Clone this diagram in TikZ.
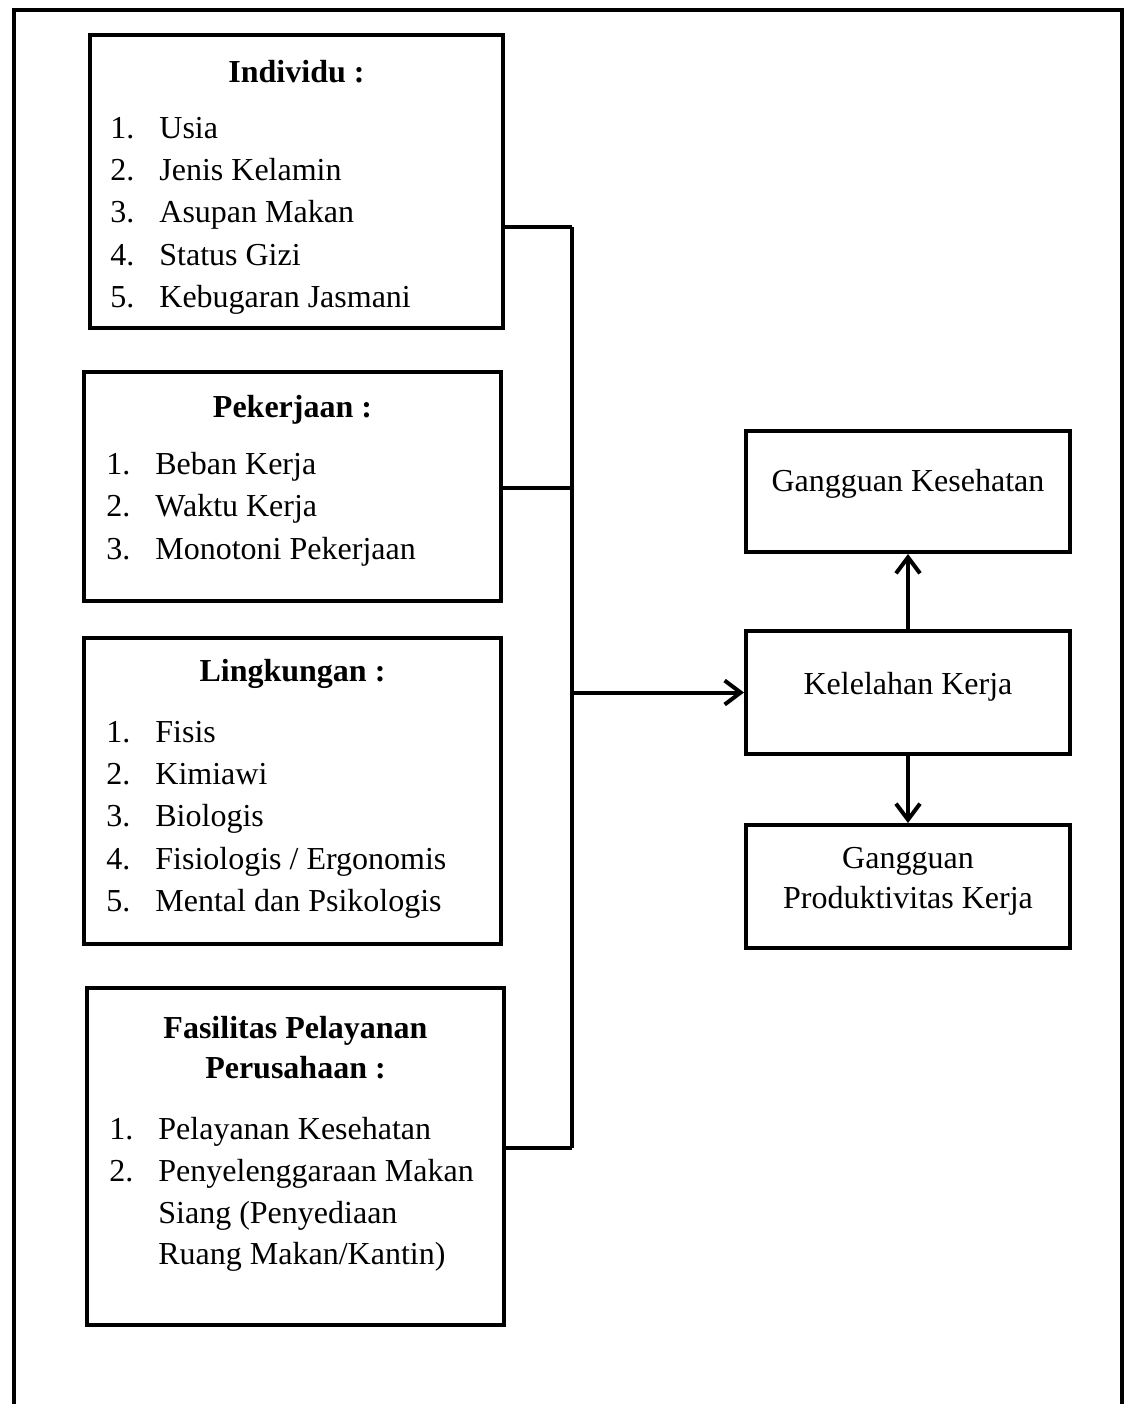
\documentclass[tikz,border=0pt]{standalone}
\usepackage{fontspec}
\setmainfont{Liberation Serif}
\usetikzlibrary{arrows.meta}
\newcommand{\pbox}[5]{%
  \node[boxstyle, minimum width={(#4-#2)*0.5pt}, minimum height={(#5-#3)*0.5pt}] (#1) at ({(#2+#4)/2},{(#3+#5)/2}) {};}
\begin{document}
\begin{tikzpicture}[x=0.5pt,y=-0.5pt,
  boxstyle/.style={draw, line width=2pt, inner sep=0pt, rectangle},
  conn/.style={line width=2pt},
  arr/.style={line width=2pt, -{Straight Barb[length=8pt,width=12pt,line width=2pt]}},
  item/.style={anchor=base west, inner sep=0pt, font=\fontsize{16}{21}\selectfont},
  ttl/.style={anchor=base, inner sep=0pt, font=\fontsize{16}{21}\selectfont\bfseries},
  ctr/.style={anchor=base, inner sep=0pt, font=\fontsize{16}{21}\selectfont}]
\useasboundingbox (0,0) rectangle (1124,1404);
% outer frame
\draw[line width=2pt] (14,1404) -- (14,9.5) -- (1122,9.5) -- (1122,1404);
% left boxes
\pbox{ind}{90}{35}{503}{328}
\pbox{pek}{84}{372}{501}{601}
\pbox{lin}{84}{638}{501}{944}
\pbox{fas}{87}{988}{504}{1325}
% right boxes
\pbox{gk}{746}{431}{1070}{552}
\pbox{kk}{746}{631}{1070}{754}
\pbox{gp}{746}{825}{1070}{948}
% Individu
\node[ttl] (t1) at (296.5,82) {Individu :};
\node[item] (i1n) at (110,138) {1.}; \node[item] (i1) at (159,138) {Usia};
\node[item] (i2n) at (110,180) {2.}; \node[item] (i2) at (159,180) {Jenis Kelamin};
\node[item] (i3n) at (110,222) {3.}; \node[item] (i3) at (159,222) {Asupan Makan};
\node[item] (i4n) at (110,265) {4.}; \node[item] (i4) at (159,265) {Status Gizi};
\node[item] (i5n) at (110,307) {5.}; \node[item] (i5) at (159,307) {Kebugaran Jasmani};
% Pekerjaan
\node[ttl] (t2) at (292.5,417) {Pekerjaan :};
\node[item] (p1n) at (106,474) {1.}; \node[item] (p1) at (155,474) {Beban Kerja};
\node[item] (p2n) at (106,516) {2.}; \node[item] (p2) at (155,516) {Waktu Kerja};
\node[item] (p3n) at (106,559) {3.}; \node[item] (p3) at (155,559) {Monotoni Pekerjaan};
% Lingkungan
\node[ttl] (t3) at (292.5,681) {Lingkungan :};
\node[item] (l1n) at (106,742) {1.}; \node[item] (l1) at (155,742) {Fisis};
\node[item] (l2n) at (106,784) {2.}; \node[item] (l2) at (155,784) {Kimiawi};
\node[item] (l3n) at (106,826) {3.}; \node[item] (l3) at (155,826) {Biologis};
\node[item] (l4n) at (106,869) {4.}; \node[item] (l4) at (155,869) {Fisiologis / Ergonomis};
\node[item] (l5n) at (106,911) {5.}; \node[item] (l5) at (155,911) {Mental dan Psikologis};
% Fasilitas
\node[ttl] (t4a) at (295.5,1038) {Fasilitas Pelayanan};
\node[ttl] (t4b) at (295.5,1078) {Perusahaan :};
\node[item] (f1n) at (109,1139) {1.}; \node[item] (f1) at (158,1139) {Pelayanan Kesehatan};
\node[item] (f2n) at (109,1181) {2.}; \node[item] (f2) at (158,1181) {Penyelenggaraan Makan};
\node[item] (f3) at (158,1223) {Siang (Penyediaan};
\node[item] (f4) at (158,1264) {Ruang Makan/Kantin)};
% right texts
\node[ctr] (tg) at (908,491) {Gangguan Kesehatan};
\node[ctr] (tk) at (908,694) {Kelelahan Kerja};
\node[ctr] (tp1) at (908,868) {Gangguan};
\node[ctr] (tp2) at (908,908) {Produktivitas Kerja};
% connectors
\coordinate (j1) at (572,227);
\coordinate (j2) at (572,488);
\coordinate (j3) at (572,692.5);
\coordinate (j4) at (572,1148);
\draw[conn] (ind.east |- j1) -- (j1);
\draw[conn] (pek.east |- j2) -- (j2);
\draw[conn] (fas.east |- j4) -- (j4);
\draw[conn] (j1) -- (j4);
\draw[arr] (j3) -- (j3 -| kk.west);
\draw[arr] (kk.north) -- (gk.south);
\draw[arr] (kk.south) -- (gp.north);
\end{tikzpicture}
\end{document}
